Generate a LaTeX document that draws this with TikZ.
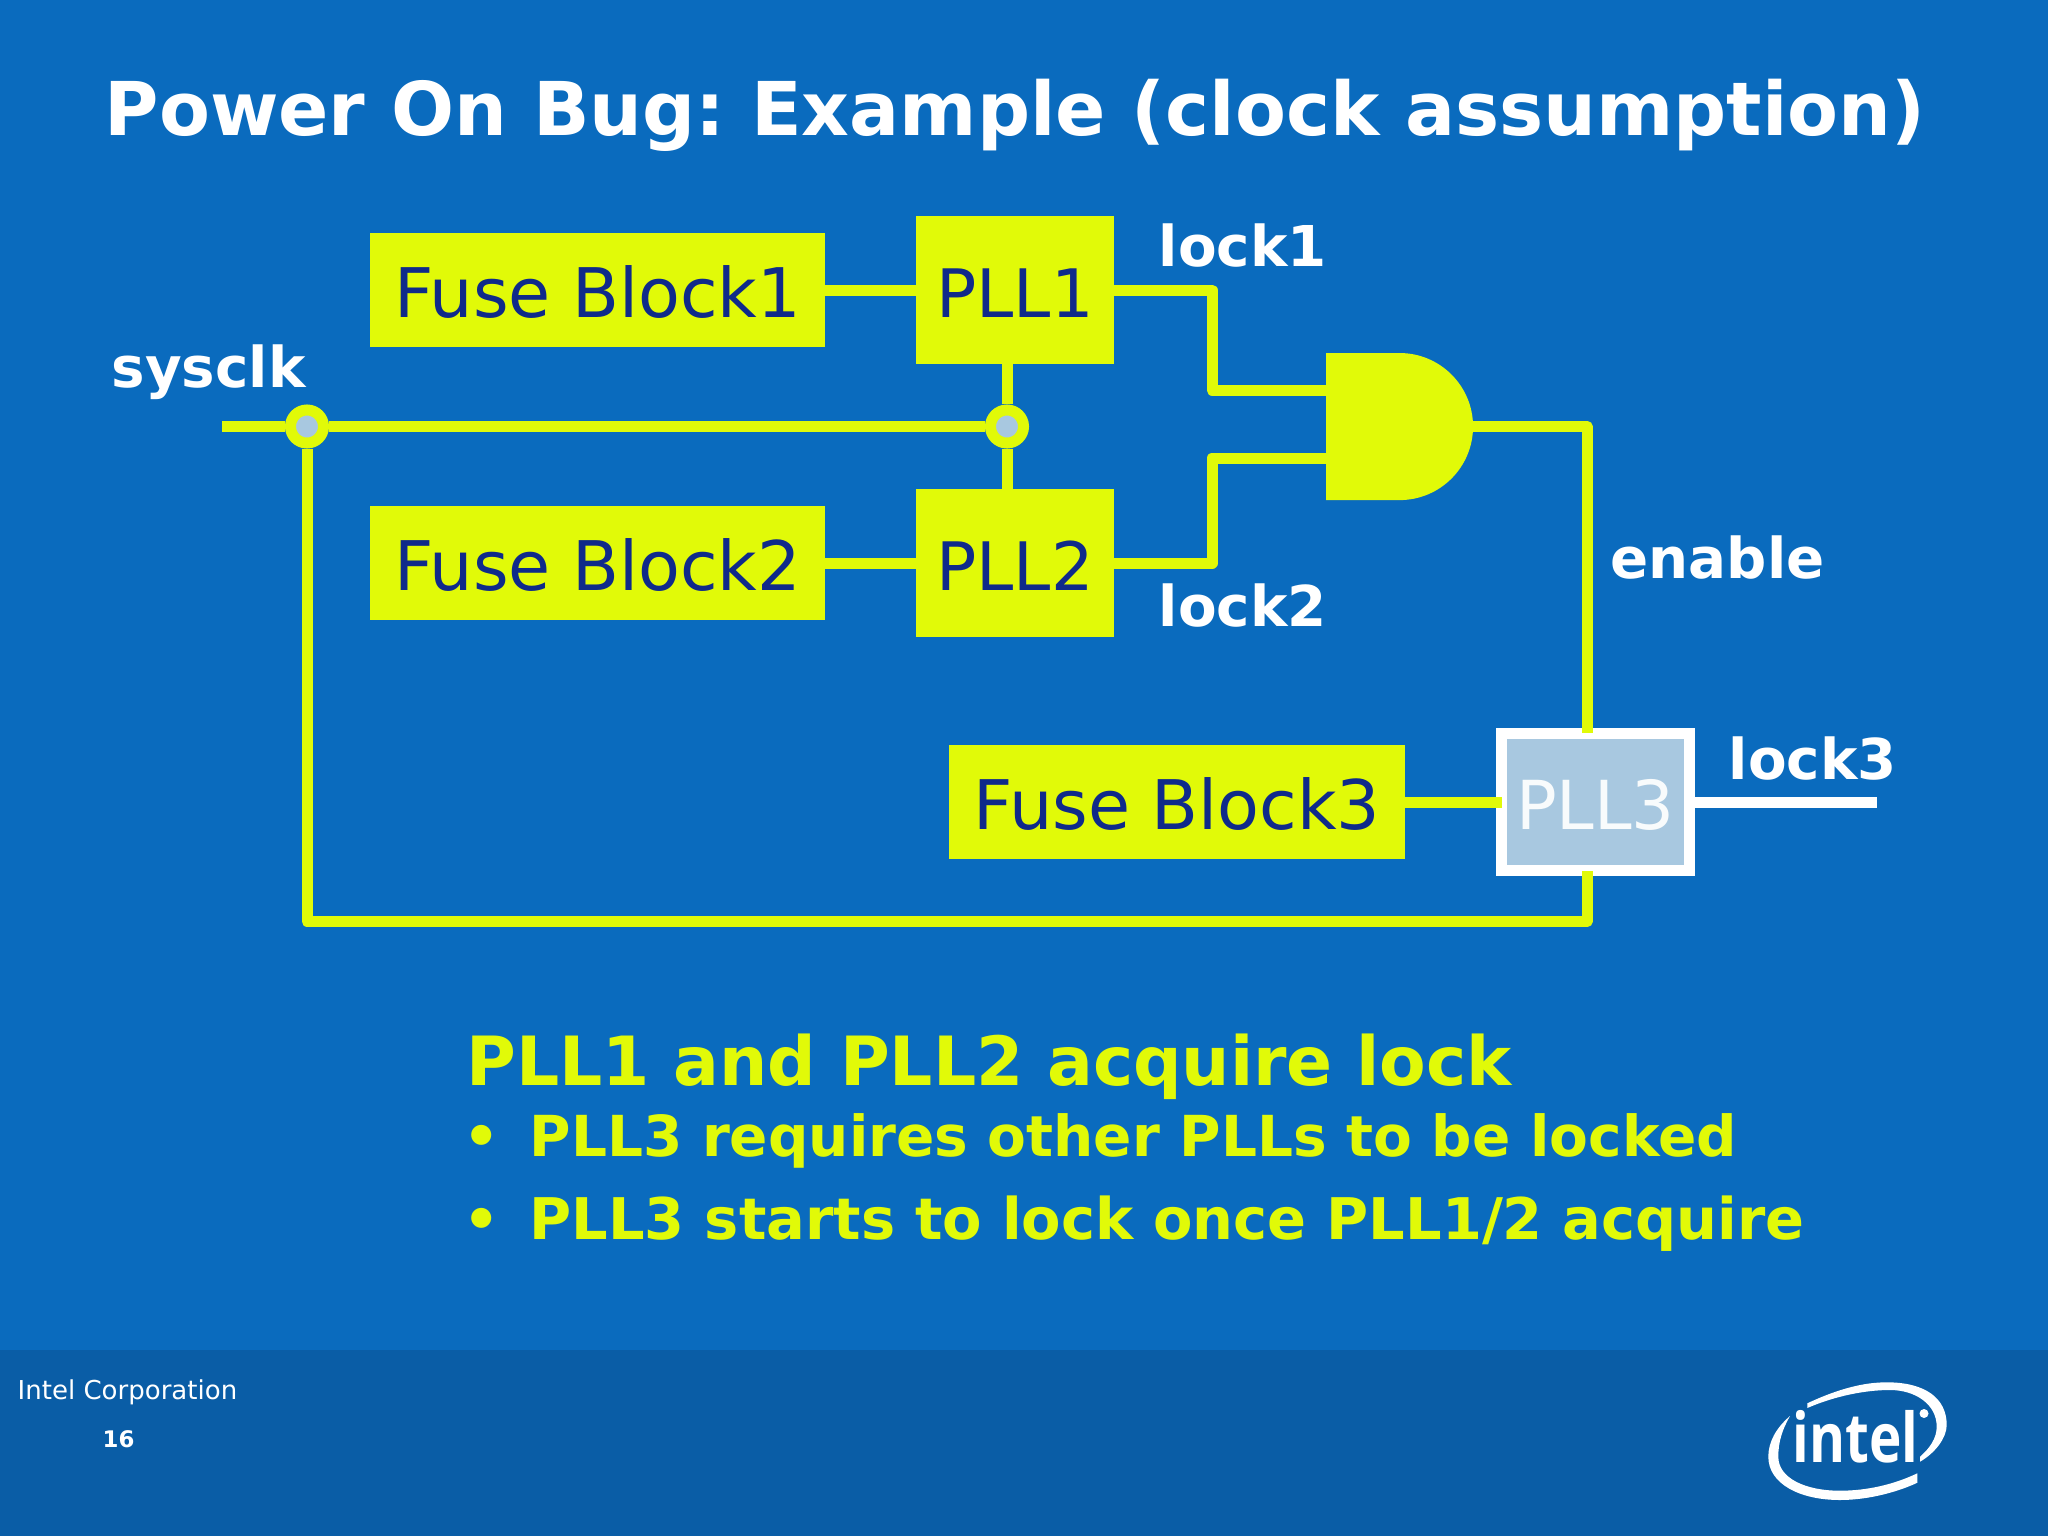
\documentclass[tikz,border=0pt]{standalone}
\usepackage{fontspec}
\setmainfont{DejaVu Sans}
\newfontfamily\logofont{Open Sans}
\usetikzlibrary{positioning, calc}

\definecolor{slideblue}{HTML}{0A6BBE}
\definecolor{footblue}{HTML}{0A5DA6}
\definecolor{lime}{HTML}{E1FA08}
\definecolor{navy}{HTML}{0F2A8A}
\definecolor{paleblue}{HTML}{A8C8E0}

\begin{document}
\frenchspacing
\begin{tikzpicture}[x=0.01cm, y=-0.01cm,
		wire/.style={draw=lime, line width=0.11cm, line join=round},
		box/.style={fill=lime, text=navy, inner sep=0pt, outer sep=0pt, text height=0.55cm, text depth=0pt},
		fuse/.style={box, minimum width=4.55cm, minimum height=1.13cm, font=\fontsize{19.45}{23}\selectfont},
		pll/.style={box, minimum width=1.98cm, minimum height=1.47cm, font=\fontsize{19}{23}\selectfont},
		joint/.style={circle, draw=lime, fill=paleblue, line width=0.11cm, minimum size=0.33cm, inner sep=0pt},
		lbl/.style={anchor=base west, text=white, font=\fontsize{16}{19}\selectfont\bfseries, inner sep=0pt},
		note/.style={anchor=base west, text=lime, inner sep=0pt}]
		
		\fill [slideblue] (0,0) rectangle (2048,1536);
		\fill [footblue] (0,1350) rectangle (2048,1536);
		\useasboundingbox (0,0) rectangle (2048,1536);
		
		\node [anchor=base west, text=white, inner sep=0pt, font=\fontsize{21.1}{26}\selectfont\bfseries] at (104,135) (title) {Power On Bug: Example (clock assumption)};
		
		\node[fuse] at (597.5,290) (fuse1) {Fuse Block1};
		\node[fuse] at (597.5,563) (fuse2) {Fuse Block2};
		\node[fuse] at (1177,802)  (fuse3) {Fuse Block3};
		
		\node[pll] at (1015,290) (pll1) {PLL1};
		\node[pll] at (1015,563) (pll2) {PLL2};
		\node[draw=white, fill=paleblue, text=white!92!paleblue, line width=0.11cm, minimum width=1.88cm, minimum height=1.37cm, inner sep=0pt, text height=0.55cm, text depth=0pt, font=\fontsize{19.2}{23}\selectfont] at (1595.5,802) (pll3) {PLL3};
		
		\coordinate (sysin) at (222,426.5);
		\coordinate (andin1) at (1326,390);
		\coordinate (andin2) at (1326,458);
		\coordinate (andout) at (1473,426.5);
		\coordinate (pll3top) at (1587,733);
		\coordinate (pll3left) at (1502,802);
		\coordinate (pll3bot) at (1587,871);
		\coordinate (busb) at (1587,921.5);
		\coordinate (lock3end) at (1877,802);
		
		\node[joint] at (307,426.5)  (joint1) {};
		\node[joint] at (1007,426.5) (joint2) {};
		
		% AND gate
		\fill [lime] (1326,353) -- (1399.5,353) arc[start angle=90, end angle=-90, radius=0.735cm] -- (1326,500) -- cycle;
		
		\draw[wire] (fuse1) -- (pll1);
		\draw[wire] (fuse2) -- (pll2);
		\draw[wire] (fuse3) -- (pll3left);
		\draw[wire] (sysin) -- (joint1);
		\draw[wire] (joint1) -- (joint2);
		\draw[wire] (joint2) -- (joint2 |- pll1.south);
		\draw[wire] (joint2) -- (joint2 |- pll2.north);
		\draw[wire] (pll1.east) -- (1212,290) |- (andin1);
		\draw[wire] (pll2.east) -- (1212,563) |- (andin2);
		\draw[wire] (andout) -| (pll3top);
		\draw[wire] (joint1) |- (busb) -- (pll3bot);
		\draw[draw=white, line width=0.11cm] (pll3.east |- lock3end) -- (lock3end);
		
		\node[lbl] at (111,387) (sysclk) {sysclk};
		\node[lbl] at (1158,266) (lock1) {lock1};
		\node[lbl] at (1158,626) (lock2) {lock2};
		\node[lbl] at (1610,578) (enable) {enable};
		\node[lbl] at (1728,779) (lock3) {lock3};
		
		\node[note, font=\fontsize{19.3}{23}\selectfont\bfseries] at (466,1085) (head) {PLL1 and PLL2 acquire lock};
		\node[note, font=\fontsize{16.2}{20}\selectfont\bfseries] at (463,1156) (dot1) {•};
		\node[note, font=\fontsize{16.07}{20}\selectfont\bfseries] at (529,1156) (item1) {PLL3 requires other PLLs to be locked};
		\node[note, font=\fontsize{16.2}{20}\selectfont\bfseries] at (463,1239) (dot2) {•};
		\node[note, font=\fontsize{16.33}{20}\selectfont\bfseries] at (529,1239) (item2) {PLL3 starts to lock once PLL1/2 acquire};
		
		\node[anchor=base west, text=white, inner sep=0pt, font=\fontsize{7.4}{9}\selectfont] at (17,1399) (corp) {Intel Corporation};
		\node[anchor=base west, text=white, inner sep=0pt, font=\fontsize{6.5}{8}\selectfont\bfseries] at (102,1447) (page) {16};
		
		% logo
		\fill [white] (1807.3,1403.3) .. controls (1840,1388) and (1865,1382.3) .. (1886.7,1382.3) .. controls (1925,1382.3) and (1946.7,1398) .. (1946.7,1425) .. controls (1946.7,1438) and (1935,1453) .. (1920,1461.7) -- (1920,1456.7) .. controls (1930,1448) and (1936.7,1438) .. (1936.7,1426.7) .. controls (1936.7,1404) and (1915,1390) .. (1890,1390) .. controls (1865,1390) and (1835,1396) .. (1807.3,1408) -- cycle;
		\fill [white] (1790,1416) .. controls (1776,1428) and (1768.3,1442) .. (1768.3,1456.7) .. controls (1768.3,1484) and (1800,1500) .. (1840,1500) .. controls (1870,1500) and (1900,1491) .. (1917.3,1482.7) -- (1917.3,1473.3) .. controls (1895,1484) and (1868,1490.7) .. (1840,1490.7) .. controls (1805,1490.7) and (1778.3,1478) .. (1778.3,1456.7) .. controls (1778.3,1442) and (1782,1430) .. (1790,1416) -- cycle;
		\node[anchor=base west, text=white, inner sep=0pt, xscale=0.8, font=\fontsize{19.5}{23}\logofont\bfseries] at (1792,1462) (logo) {intel};
		\fill [white] (1924,1413.5) circle[radius=0.045cm];
	\end{tikzpicture}
\end{document}
